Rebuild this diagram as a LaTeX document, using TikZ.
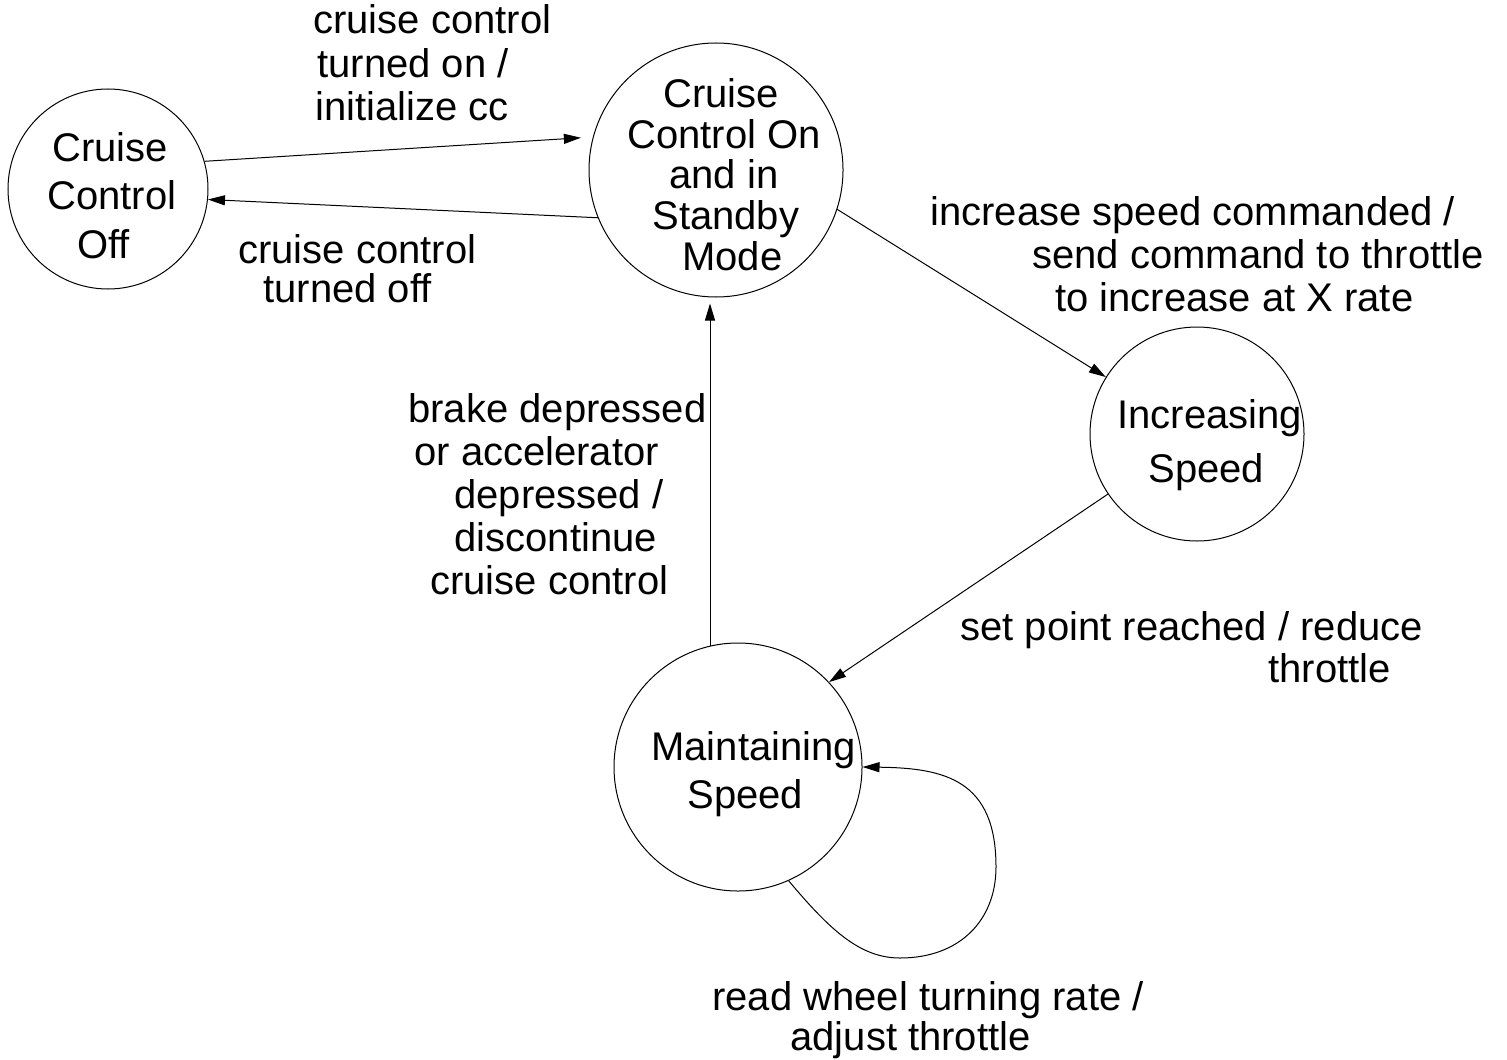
\documentclass[tikz,border=0pt]{standalone}
\usepackage{fontspec}
\setmainfont{Liberation Sans}
\usetikzlibrary{arrows.meta}
\begin{document}
\begin{tikzpicture}[x=0.5pt,y=-0.5pt,
  state/.style={circle,draw,line width=0.5pt,inner sep=0pt},
  txt/.style={anchor=base west,inner sep=0pt,font=\fontsize{20pt}{24pt}\selectfont},
  arr/.style={line width=0.5pt,-{Triangle[length=8.5pt,width=5pt]}}]
\useasboundingbox[fill=white] (0,0) rectangle (1507,1059);

% states
\node[state,minimum size=100pt] (off)     at (108,189) {};
\node[state,minimum size=127pt] (standby) at (716,170) {};
\node[state,minimum size=107pt] (inc)     at (1197,434) {};
\node[state,minimum size=124pt] (maint)   at (738,767) {};

% state names
\node[txt] (offa) at (52,162) {Cruise};
\node[txt] (offb) at (47,210) {Control};
\node[txt] (offc) at (77,258) {Off};

\node[txt] (sba) at (663,108) {Cruise};
\node[txt] (sbb) at (627,149) {Control On};
\node[txt] (sbc) at (669,189) {and in};
\node[txt] (sbd) at (652,229) {Standby};
\node[txt] (sbe) at (682,270) {Mode};

\node[txt] (inca) at (1117,428) {Increasing};
\node[txt] (incb) at (1148,482) {Speed};

\node[txt] (mta) at (651,760) {Maintaining};
\node[txt] (mtb) at (687,808) {Speed};

% transitions
\draw[arr,shorten >=6pt] (off.16) -- (standby.165);
\draw[arr] (standby.202) -- (off.354);
\draw[arr] (standby.342) -- (inc.148);
\draw[arr] (inc.214) -- (maint.43);
\draw[arr,shorten >=3pt] (maint.103) -- (maint.103 |- standby.south);
\draw[arr] (maint.294) .. controls (830,930) and (860,958) .. (900,958)
  .. controls (960,958) and (996,920) .. (996,867)
  .. controls (996,780) and (945,768) .. (maint.east);

% transition labels
\node[txt] (l1a) at (313,34)  {cruise control};
\node[txt] (l1b) at (317,78)  {turned on /};
\node[txt] (l1c) at (315,121) {initialize cc};

\node[txt] (l2a) at (238,263) {cruise control};
\node[txt] (l2b) at (263,302) {turned off};

\node[txt] (l3a) at (930,225)  {increase speed commanded /};
\node[txt] (l3b) at (1032,268) {send command to throttle};
\node[txt] (l3c) at (1055,311) {to increase at X rate};

\node[txt] (l4a) at (408,422) {brake depressed};
\node[txt] (l4b) at (414,465) {or accelerator};
\node[txt] (l4c) at (454,508) {depressed /};
\node[txt] (l4d) at (454,551) {discontinue};
\node[txt] (l4e) at (430,594) {cruise control};

\node[txt] (l5a) at (960,640)  {set point reached / reduce};
\node[txt] (l5b) at (1268,682) {throttle};

\node[txt] (l6a) at (712,1010) {read wheel turning rate /};
\node[txt] (l6b) at (790,1050) {adjust throttle};
\end{tikzpicture}
\end{document}
